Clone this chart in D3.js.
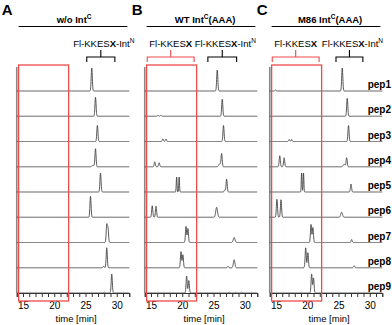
<!DOCTYPE html>
<html>
<head>
<meta charset="utf-8">
<script src="https://cdn.jsdelivr.net/npm/d3@7"></script>
<style>
  body { margin: 0; background: #fff; }
  svg { display: block; font-family: "Liberation Sans", Arial, sans-serif; }
</style>
</head>
<body>
<svg id="chart" width="392" height="325"></svg>
<script>
// ---- data ----
const peps = ["pep1", "pep2", "pep3", "pep4", "pep5", "pep6", "pep7", "pep8", "pep9"];
const panelLetters = ["A", "B", "C"];
const conditions = [["w/o Int", "C", ""], ["WT Int", "C", "(AAA)"], ["M86 Int", "C", "(AAA)"]];
const tickValues = d3.range(14, 33);
const labeledTicks = [15, 20, 25, 30];
const substrateWindow = [14.3, 22.3];            // red box, min
const productBrackets = [[25.2, 29.7], [24.1, 28.7], [24.6, 28.9]];
const substrateBrackets = [null, [14.4, 21.9], [14.4, 21.9]];

// peaks: [retention time (min), relative height, sigma (min, optional)]
const peaksA = [
  [[26.0, 0.92]],
  [[26.6, 0.76]],
  [[26.9, 0.64]],
  [[26.6, 0.72], [26.2, 0.06, 0.15]],
  [[27.4, 0.76]],
  [[25.8, 0.84]],
  [[28.4, 0.70], [28.6, 0.55]],
  [[28.4, 0.80], [27.9, 0.06]],
  [[29.2, 0.76], [28.0, 0.04]]
];
const peaksB = [
  [[25.6, 0.84]],
  [[26.4, 0.68], [16.1, 0.04], [16.6, 0.04]],
  [[26.6, 0.64], [16.9, 0.10], [17.4, 0.10]],
  [[26.3, 0.52], [26.0, 0.12, 0.15], [15.6, 0.20], [16.3, 0.16]],
  [[19.1, 0.60, 0.06], [19.5, 0.60, 0.06], [27.1, 0.52], [26.8, 0.08]],
  [[15.2, 0.46], [15.8, 0.44], [25.5, 0.40, 0.14]],
  [[20.6, 0.64], [20.9, 0.56], [28.3, 0.20, 0.14]],
  [[19.8, 0.64], [20.1, 0.52], [28.3, 0.32, 0.12], [27.3, 0.06]],
  [[20.7, 0.68], [21.05, 0.50], [27.5, 0.03], [28.5, 0.03], [29.5, 0.03]]
];
const peaksC = [
  [[25.6, 0.92], [14.9, 0.04]],
  [[26.4, 0.72]],
  [[26.6, 0.64], [17.1, 0.08], [17.5, 0.08]],
  [[15.6, 0.44], [16.3, 0.36], [26.3, 0.36], [25.9, 0.10, 0.15]],
  [[19.1, 0.76, 0.06], [19.4, 0.76, 0.06], [27.0, 0.32]],
  [[15.15, 0.72], [15.8, 0.70], [25.5, 0.20, 0.14]],
  [[20.6, 0.72], [20.9, 0.60], [27.1, 0.12]],
  [[19.75, 0.80], [20.1, 0.60], [27.5, 0.08]],
  [[20.7, 0.76], [21.0, 0.60]]
];
const panelPeaks = [peaksA, peaksB, peaksC];

// ---- layout ----
const svg = d3.select("#chart");
svg.append("rect").attr("width", 392).attr("height", 325).attr("fill", "#fff");

const panelLeft = [16.75, 144.75, 269.75];
const pxPerMin = 6.25;
const y = d3.scalePoint().domain(peps).range([91, 293]);
const h = d3.scaleLinear().domain([0, 1]).range([0, 25]);
const grid = d3.range(14, 32.0001, 0.02);
const red = "#ef4b4b";

function signal(t, peaks) {
  let s = 0;
  for (const p of peaks) {
    const sd = p[2] || 0.09;
    s += p[1] * Math.exp(-((t - p[0]) ** 2) / (2 * sd * sd));
  }
  return s;
}

function bracket(g, x0, x1, color) {
  const xm = (x0 + x1) / 2;
  g.append("path")
    .attr("d", `M${x0},62V57H${x1}V62M${xm},57V50`)
    .attr("fill", "none").attr("stroke", color).attr("stroke-width", 1.1);
}

function intLabel(g, x, yy, main, sup, rest, weight) {
  const t = g.append("text").attr("x", x).attr("y", yy)
    .attr("text-anchor", "middle").attr("font-weight", weight);
  t.append("tspan").text(main);
  t.append("tspan").attr("font-size", "6.5px").attr("dy", -4).text(sup);
  if (rest) t.append("tspan").attr("dy", 4).text(rest);
  return t;
}

function productText(g, x, withInt) {
  const t = g.append("text").attr("x", x).attr("y", 46.5)
    .attr("text-anchor", "middle").attr("font-size", "9.5px");
  t.append("tspan").text("Fl-KKES");
  t.append("tspan").attr("font-weight", "bold").text("X");
  if (withInt) {
    t.append("tspan").text("-Int");
    t.append("tspan").attr("font-size", "6.5px").attr("dy", -4).text("N");
  }
}

panelLetters.forEach((letter, pi) => {
  const x = d3.scaleLinear().domain([14, 32])
    .range([panelLeft[pi], panelLeft[pi] + 18 * pxPerMin]);
  const g = svg.append("g");

  // panel letter and condition title
  g.append("text").attr("x", x(14) - 15 + (pi ? 2 : 0)).attr("y", 15)
    .attr("font-size", "15px").attr("font-weight", "bold").text(letter);
  const cond = conditions[pi];
  const tx = x(23.5) + (pi ? 1 : -2);
  const title = g.append("text").attr("x", tx).attr("y", 23)
    .attr("text-anchor", "middle").attr("font-size", "9.5px").attr("font-weight", "bold");
  title.append("tspan").text(cond[0]);
  title.append("tspan").attr("font-size", "6.5px").attr("dy", -4).text(cond[1]);
  if (cond[2]) title.append("tspan").attr("dy", 4).text(cond[2]);
  g.append("line").attr("x1", x(14.3)).attr("x2", x(31.7))
    .attr("y1", 26.5).attr("y2", 26.5).attr("stroke", "#000").attr("stroke-width", 1);

  // brackets and labels
  const pb = productBrackets[pi];
  bracket(g, x(pb[0]), x(pb[1]), "#000");
  productText(g, x((pb[0] + pb[1]) / 2) + 3, true);
  const sb = substrateBrackets[pi];
  if (sb) {
    bracket(g, x(sb[0]), x(sb[1]), red);
    productText(g, x((sb[0] + sb[1]) / 2), false);
  }

  // vertical axis line
  g.append("line").attr("x1", x(14)).attr("x2", x(14))
    .attr("y1", 67).attr("y2", 293).attr("stroke", "#888").attr("stroke-width", 1.6);

  // traces
  const line = d3.line().x(d => x(d[0])).y(d => d[1]);
  panelPeaks[pi].forEach((peaks, ri) => {
    const base = y(peps[ri]);
    const pts = grid.map(t => [t, base - h(signal(t, peaks))]);
    g.append("path").attr("d", line(pts))
      .attr("fill", "none").attr("stroke", "#444").attr("stroke-width", 0.9);
  });

  // x axis
  const axis = d3.axisBottom(x).tickValues(tickValues).tickSize(4)
    .tickFormat(d => labeledTicks.includes(d) ? d : "");
  const ag = g.append("g").attr("transform", "translate(0,293)").call(axis);
  ag.select(".domain").attr("stroke", "#333").attr("stroke-width", 1);
  ag.selectAll(".tick line").attr("stroke", "#333");
  ag.selectAll(".tick text").attr("font-size", "10px").attr("fill", "#000")
    .attr("font-family", "Liberation Sans, Arial, sans-serif").attr("dy", "0.9em");
  g.append("text").attr("x", x(23.5)).attr("y", 322)
    .attr("text-anchor", "middle").attr("font-size", "9.5px").text("time [min]");

  // red substrate window
  g.append("rect").attr("x", x(substrateWindow[0])).attr("y", 65)
    .attr("width", x(substrateWindow[1]) - x(substrateWindow[0])).attr("height", 236)
    .attr("fill", "none").attr("stroke", red).attr("stroke-width", 1.3);
});

// row labels on the right
svg.append("g").selectAll("text").data(peps).join("text")
  .attr("x", 391).attr("y", d => y(d) - 3)
  .attr("text-anchor", "end").attr("font-size", "10px").attr("font-weight", "bold")
  .text(d => d);
</script>
</body>
</html>
